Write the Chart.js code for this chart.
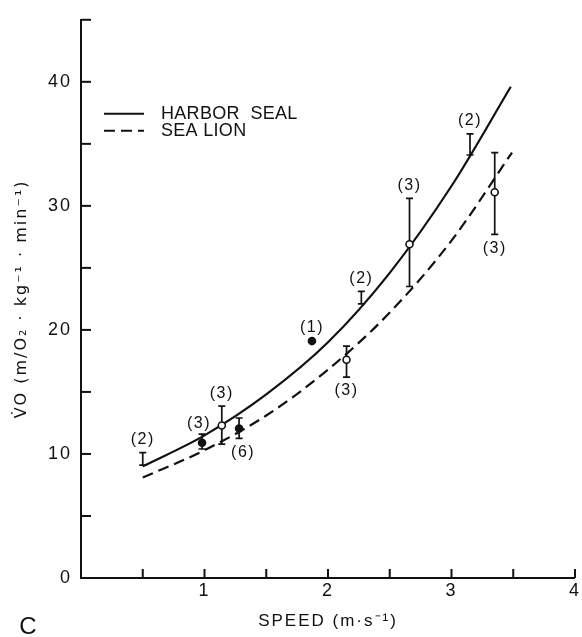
<!DOCTYPE html>
<html>
<head>
<meta charset="utf-8">
<script src="https://cdn.jsdelivr.net/npm/chart.js@4.4.1/dist/chart.umd.min.js"></script>
<style>
  html, body { margin: 0; padding: 0; background: #fff; }
</style>
</head>
<body>
<canvas id="vo2_chart" width="582" height="637"></canvas>
<script>
const speed = [0.5, 0.98, 1.14, 1.28, 1.87, 2.15, 2.27, 2.66, 3.15, 3.35];
const meanVO = [null, 10.9, 12.3, 12.05, 19.1, 17.6, null, 26.9, null, 31.1];
const upperVO = [10.1, 11.6, 13.85, 12.9, null, 18.7, 23.1, 30.6, 35.8, 34.3];
const lowerVO = [9.1, 10.4, 10.8, 11.25, null, 16.2, 22.1, 23.5, 34.1, 27.7];
const marker = ["none", "filled", "open", "filled", "filled", "open", "none", "open", "none", "open"];
const sampleN = [2, 3, 3, 6, 1, 3, 2, 3, 2, 3];
const labelSide = ["above", "aboveLeft", "above", "belowRight", "above", "below", "above", "above", "above", "below"];

// fitted curves as drawn
const sealSpeed = [0.5, 1.0, 1.5, 2.0, 2.5, 3.0, 3.48];
const sealVO = [9.0, 11.5, 14.8, 19.0, 24.6, 31.6, 39.6];
const lionSpeed = [0.5, 1.0, 1.5, 2.0, 2.5, 3.0, 3.49];
const lionVO = [8.1, 10.3, 13.1, 16.8, 21.4, 27.2, 34.3];

// axes
const xTickValues = [0, 0.5, 1, 1.5, 2, 2.5, 3, 3.5, 4];
const xTickLabels = ["", "", "1", "", "2", "", "3", "", "4"];
const yTickValues = [0, 5, 10, 15, 20, 25, 30, 35, 40, 45];
const yTickLabels = ["0", "", "10", "", "20", "", "30", "", "40", ""];

const panelLetter = "C";

const INK = "#111";
const FONT = "'Liberation Sans', Arial, Helvetica, sans-serif";

function toPoints(xs, ys) {
  return xs.map((x, i) => ({ x: x, y: ys[i] }));
}

// pen lettering is spaced out a bit
const spacing = {
  id: "spacing",
  beforeDraw(chart) {
    chart.ctx.letterSpacing = "2px";
  },
};

const tickMarks = {
  id: "tickMarks",
  afterDraw(chart) {
    const { ctx, chartArea } = chart;
    const x = chart.scales.x;
    const y = chart.scales.y;
    ctx.save();
    ctx.strokeStyle = INK;
    ctx.lineWidth = 2;
    for (let t of x.ticks) {
      if (t.value === 0) continue;
      let px = x.getPixelForValue(t.value);
      ctx.beginPath();
      ctx.moveTo(px, chartArea.bottom);
      ctx.lineTo(px, chartArea.bottom - 9);
      ctx.stroke();
    }
    for (let t of y.ticks) {
      if (t.value === 0) continue;
      let py = y.getPixelForValue(t.value);
      ctx.beginPath();
      ctx.moveTo(chartArea.left, py);
      ctx.lineTo(chartArea.left + 10, py);
      ctx.stroke();
    }
    // panel letter, bottom left corner
    ctx.fillStyle = INK;
    ctx.font = "24px " + FONT;
    ctx.letterSpacing = "0px";
    ctx.textAlign = "center";
    ctx.textBaseline = "middle";
    ctx.fillText(panelLetter, 28, chart.height - 10);
    ctx.restore();
  },
};

const errorBars = {
  id: "errorBars",
  beforeDatasetsDraw(chart) {
    const ctx = chart.ctx;
    const x = chart.scales.x;
    const y = chart.scales.y;
    ctx.save();
    ctx.strokeStyle = INK;
    ctx.lineWidth = 1.7;
    for (let i = 0; i < speed.length; i++) {
      if (upperVO[i] == null) continue;
      let px = x.getPixelForValue(speed[i]);
      let top = y.getPixelForValue(upperVO[i]);
      let bot = y.getPixelForValue(lowerVO[i]);
      ctx.beginPath();
      ctx.moveTo(px, top);
      ctx.lineTo(px, bot);
      ctx.moveTo(px - 3.5, top);
      ctx.lineTo(px + 3.5, top);
      ctx.moveTo(px - 3.5, bot);
      ctx.lineTo(px + 3.5, bot);
      ctx.stroke();
    }
    ctx.restore();
  },
};

const sampleLabels = {
  id: "sampleLabels",
  afterDatasetsDraw(chart) {
    const ctx = chart.ctx;
    const x = chart.scales.x;
    const y = chart.scales.y;
    ctx.save();
    ctx.fillStyle = INK;
    ctx.font = "16px " + FONT;
    ctx.letterSpacing = "1.5px";
    ctx.textAlign = "center";
    ctx.textBaseline = "middle";
    for (let i = 0; i < speed.length; i++) {
      let px = x.getPixelForValue(speed[i]);
      let hi = upperVO[i] != null ? upperVO[i] : meanVO[i];
      let lo = lowerVO[i] != null ? lowerVO[i] : meanVO[i];
      let top = y.getPixelForValue(hi);
      let bot = y.getPixelForValue(lo);
      let lx = px;
      let ly = top - 13;
      if (labelSide[i] === "aboveLeft") {
        lx = px - 3;
        ly = top - 11;
      } else if (labelSide[i] === "below") {
        ly = bot + 14;
      } else if (labelSide[i] === "belowRight") {
        lx = px + 4;
        ly = bot + 14;
      }
      ctx.fillText("(" + sampleN[i] + ")", lx, ly);
    }
    ctx.restore();
  },
};

const legendLines = {
  id: "legendLines",
  afterDraw(chart) {
    const { ctx, chartArea } = chart;
    const lines = chart.data.datasets.filter((d) => d.type === "line");
    ctx.save();
    ctx.font = "18px " + FONT;
    ctx.letterSpacing = "0.3px";
    ctx.textBaseline = "middle";
    ctx.fillStyle = INK;
    lines.forEach((ds, i) => {
      let ly = chartArea.top + 94 + i * 17;
      let lx = chartArea.left + 23;
      ctx.strokeStyle = INK;
      ctx.lineWidth = 2;
      ctx.setLineDash(ds.borderDash || []);
      ctx.beginPath();
      ctx.moveTo(lx, ly);
      ctx.lineTo(lx + 40, ly);
      ctx.stroke();
      ctx.setLineDash([]);
      ctx.fillText(ds.label, lx + 57, ly);
    });
    ctx.restore();
  },
};

new Chart(document.getElementById("vo2_chart").getContext("2d"), {
  type: "scatter",
  data: {
    datasets: [
      {
        label: "means",
        data: toPoints(speed, meanVO),
        order: 0,
        pointRadius: marker.map((m) => (m === "none" ? 0 : 3.5)),
        pointBackgroundColor: marker.map((m) => (m === "open" ? "#fff" : INK)),
        pointBorderColor: INK,
        pointBorderWidth: 1.6,
        showLine: false,
      },
      {
        label: "HARBOR  SEAL",
        type: "line",
        data: toPoints(sealSpeed, sealVO),
        order: 1,
        borderColor: INK,
        borderWidth: 2.2,
        pointRadius: 0,
        fill: false,
        cubicInterpolationMode: "monotone",
      },
      {
        label: "SEA LION",
        type: "line",
        data: toPoints(lionSpeed, lionVO),
        order: 2,
        borderColor: INK,
        borderWidth: 2.2,
        borderDash: [11, 6],
        pointRadius: 0,
        fill: false,
        cubicInterpolationMode: "monotone",
      },
    ],
  },
  options: {
    responsive: false,
    animation: false,
    events: [],
    layout: { padding: { top: 14, right: 6, left: 0, bottom: 0 } },
    plugins: {
      legend: { display: false },
      tooltip: { enabled: false },
    },
    scales: {
      x: {
        type: "linear",
        min: 0,
        max: 4,
        afterFit: (s) => {
          s.height = 59;
        },
        afterBuildTicks: (s) => {
          s.ticks = xTickValues.map((v) => ({ value: v }));
        },
        grid: { display: false, drawTicks: false },
        border: { display: true, color: INK, width: 2 },
        ticks: {
          color: INK,
          padding: 2,
          maxRotation: 0,
          font: { family: FONT, size: 18 },
          callback: (v, i) => xTickLabels[i],
        },
        title: {
          display: true,
          text: "SPEED (m·s⁻¹)",
          color: INK,
          font: { family: FONT, size: 17 },
          padding: { top: 0, bottom: 5 },
        },
      },
      y: {
        type: "linear",
        min: 0,
        max: 45,
        afterFit: (s) => {
          s.width = 81;
        },
        afterBuildTicks: (s) => {
          s.ticks = yTickValues.map((v) => ({ value: v }));
        },
        grid: { display: false, drawTicks: false },
        border: { display: true, color: INK, width: 2 },
        ticks: {
          color: INK,
          padding: 9,
          font: { family: FONT, size: 18 },
          callback: (v, i) => yTickLabels[i],
        },
        title: {
          display: true,
          text: "V\u0307O (m/O₂ · kg⁻¹ · min⁻¹)",
          color: INK,
          font: { family: "'DejaVu Sans', sans-serif", size: 16 },
          padding: { top: 12, bottom: 0 },
        },
      },
    },
  },
  plugins: [spacing, errorBars, tickMarks, sampleLabels, legendLines],
});
</script>
</body>
</html>
